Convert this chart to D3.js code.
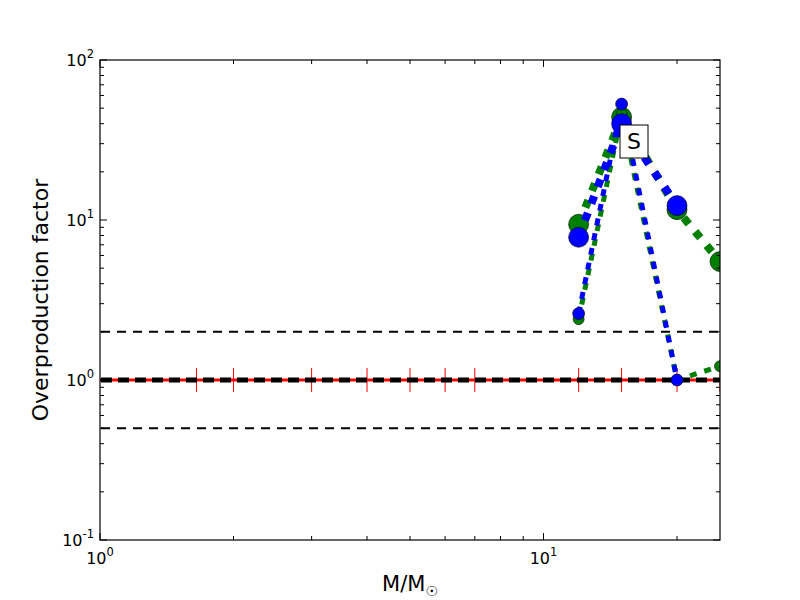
<!DOCTYPE html>
<html><head><meta charset="utf-8">
<script src="https://cdn.jsdelivr.net/npm/d3@7"></script>
<style>body{margin:0;background:#fff}svg{font-family:"DejaVu Sans",sans-serif}</style>
</head><body><svg id="c" width="800" height="600"></svg>
<script>
// ---- data ----
const refMasses = [1.65, 2, 3, 4, 5, 6, 7, 12, 15, 20, 25];
const refLevels = [0.5, 1, 2];
const massesThick = [12, 15, 20, 25];
const greenThick = [9.4, 44, 11.6, 5.5];
const blueMassesThick = [12, 15, 20];
const blueThick = [7.8, 40, 12.3];
const greenMassesThin = [12, 15, 20, 25];
const greenThin = [2.4, 46, 1.0, 1.22];
const blueMassesThin = [12, 15, 20];
const blueThin = [2.6, 53, 1.0];
const xTicks = [1, 10];
const yTicks = [0.1, 1, 10, 100];
const labelText = "S";

const svg = d3.select("#c");
const L = 100, R = 720, T = 60, B = 540;
const x = d3.scaleLog().domain([1, 25]).range([L, R]);
const y = d3.scaleLog().domain([0.1, 100]).range([B, T]);

svg.append("defs").append("clipPath").attr("id", "clip")
  .append("rect").attr("x", L).attr("y", T).attr("width", R - L).attr("height", B - T);
const g = svg.append("g").attr("clip-path", "url(#clip)");

// red reference line with error bars
g.append("line").attr("x1", L).attr("x2", R).attr("y1", y(1)).attr("y2", y(1))
  .attr("stroke", "red").attr("stroke-width", 3);
g.selectAll(".eb").data(refMasses).enter().append("line")
  .attr("x1", d => x(d)).attr("x2", d => x(d))
  .attr("y1", y(1) - 12).attr("y2", y(1) + 12)
  .attr("stroke", "red").attr("stroke-width", 1);

// black dashed levels
g.selectAll(".lv").data(refLevels).enter().append("line")
  .attr("x1", L).attr("x2", R).attr("y1", d => y(d)).attr("y2", d => y(d))
  .attr("stroke", "black")
  .attr("stroke-width", d => d === 1 ? 5 : 2)
  .attr("stroke-dasharray", d => d === 1 ? "11,6" : "9,7")
  .attr("stroke-dashoffset", -1);

function series(ms, vs, color, lw, dash, r) {
  const pts = ms.map((m, i) => [m, vs[i]]);
  g.append("path").datum(pts)
    .attr("d", d3.line().x(d => x(d[0])).y(d => y(d[1])))
    .attr("fill", "none").attr("stroke", color).attr("stroke-width", lw)
    .attr("stroke-dasharray", dash);
  g.selectAll(null).data(pts).enter().append("circle")
    .attr("cx", d => x(d[0])).attr("cy", d => y(d[1])).attr("r", r)
    .attr("fill", color).attr("stroke", "black").attr("stroke-width", 0.6);
}
series(massesThick, greenThick, "green", 8, "8,10", 10);
series(greenMassesThin, greenThin, "green", 5, "7,8", 5.5);
series(blueMassesThick, blueThick, "blue", 8, "8,10", 10);
series(blueMassesThin, blueThin, "blue", 5, "7,8", 6);

// S label box
const lx = 634, ly = 141;
svg.append("rect").attr("x", lx - 14).attr("y", ly - 16).attr("width", 28).attr("height", 33)
  .attr("fill", "white").attr("stroke", "black").attr("stroke-width", 1);
svg.append("text").attr("x", lx).attr("y", ly + 8).attr("text-anchor", "middle")
  .attr("font-size", 22).text(labelText);

// frame
svg.append("rect").attr("x", L).attr("y", T).attr("width", R - L).attr("height", B - T)
  .attr("fill", "none").attr("stroke", "black").attr("stroke-width", 1.2);

// ticks
function minors(lo, hi) {
  const out = [];
  for (let e = Math.floor(Math.log10(lo)); e <= Math.ceil(Math.log10(hi)); e++)
    for (let k = 2; k <= 9; k++) { const v = k * Math.pow(10, e); if (v > lo && v < hi) out.push(v); }
  return out;
}
const tk = svg.append("g").attr("stroke", "black").attr("stroke-width", 1);
minors(1, 25).forEach(v => {
  tk.append("line").attr("x1", x(v)).attr("x2", x(v)).attr("y1", B).attr("y2", B - 4);
  tk.append("line").attr("x1", x(v)).attr("x2", x(v)).attr("y1", T).attr("y2", T + 4);
});
xTicks.forEach(v => {
  tk.append("line").attr("x1", x(v)).attr("x2", x(v)).attr("y1", B).attr("y2", B - 7);
  tk.append("line").attr("x1", x(v)).attr("x2", x(v)).attr("y1", T).attr("y2", T + 7);
});
minors(0.1, 100).forEach(v => {
  tk.append("line").attr("y1", y(v)).attr("y2", y(v)).attr("x1", L).attr("x2", L + 4);
  tk.append("line").attr("y1", y(v)).attr("y2", y(v)).attr("x1", R).attr("x2", R - 4);
});
yTicks.forEach(v => {
  tk.append("line").attr("y1", y(v)).attr("y2", y(v)).attr("x1", L).attr("x2", L + 7);
  tk.append("line").attr("y1", y(v)).attr("y2", y(v)).attr("x1", R).attr("x2", R - 7);
});

function powLabel(px, py, v, anchor) {
  const e = Math.round(Math.log10(v));
  const t = svg.append("text").attr("x", px).attr("y", py).attr("text-anchor", anchor).attr("font-size", 16);
  t.append("tspan").text("10");
  t.append("tspan").attr("dy", -8).attr("font-size", 11.5).text(e);
}
xTicks.forEach(v => powLabel(x(v), B + 24, v, "middle"));
yTicks.forEach(v => powLabel(L - 6, y(v) + 6, v, "end"));

// axis titles
const xt = svg.append("text").attr("x", 410).attr("y", 591).attr("text-anchor", "middle").attr("font-size", 21);
xt.append("tspan").text("M/M");
xt.append("tspan").attr("dy", 5).attr("font-size", 14).text("\u2609");
svg.append("text").attr("transform", "translate(48,300) rotate(-90)").attr("text-anchor", "middle")
  .attr("font-size", 22).text("Overproduction factor");
</script></body></html>
